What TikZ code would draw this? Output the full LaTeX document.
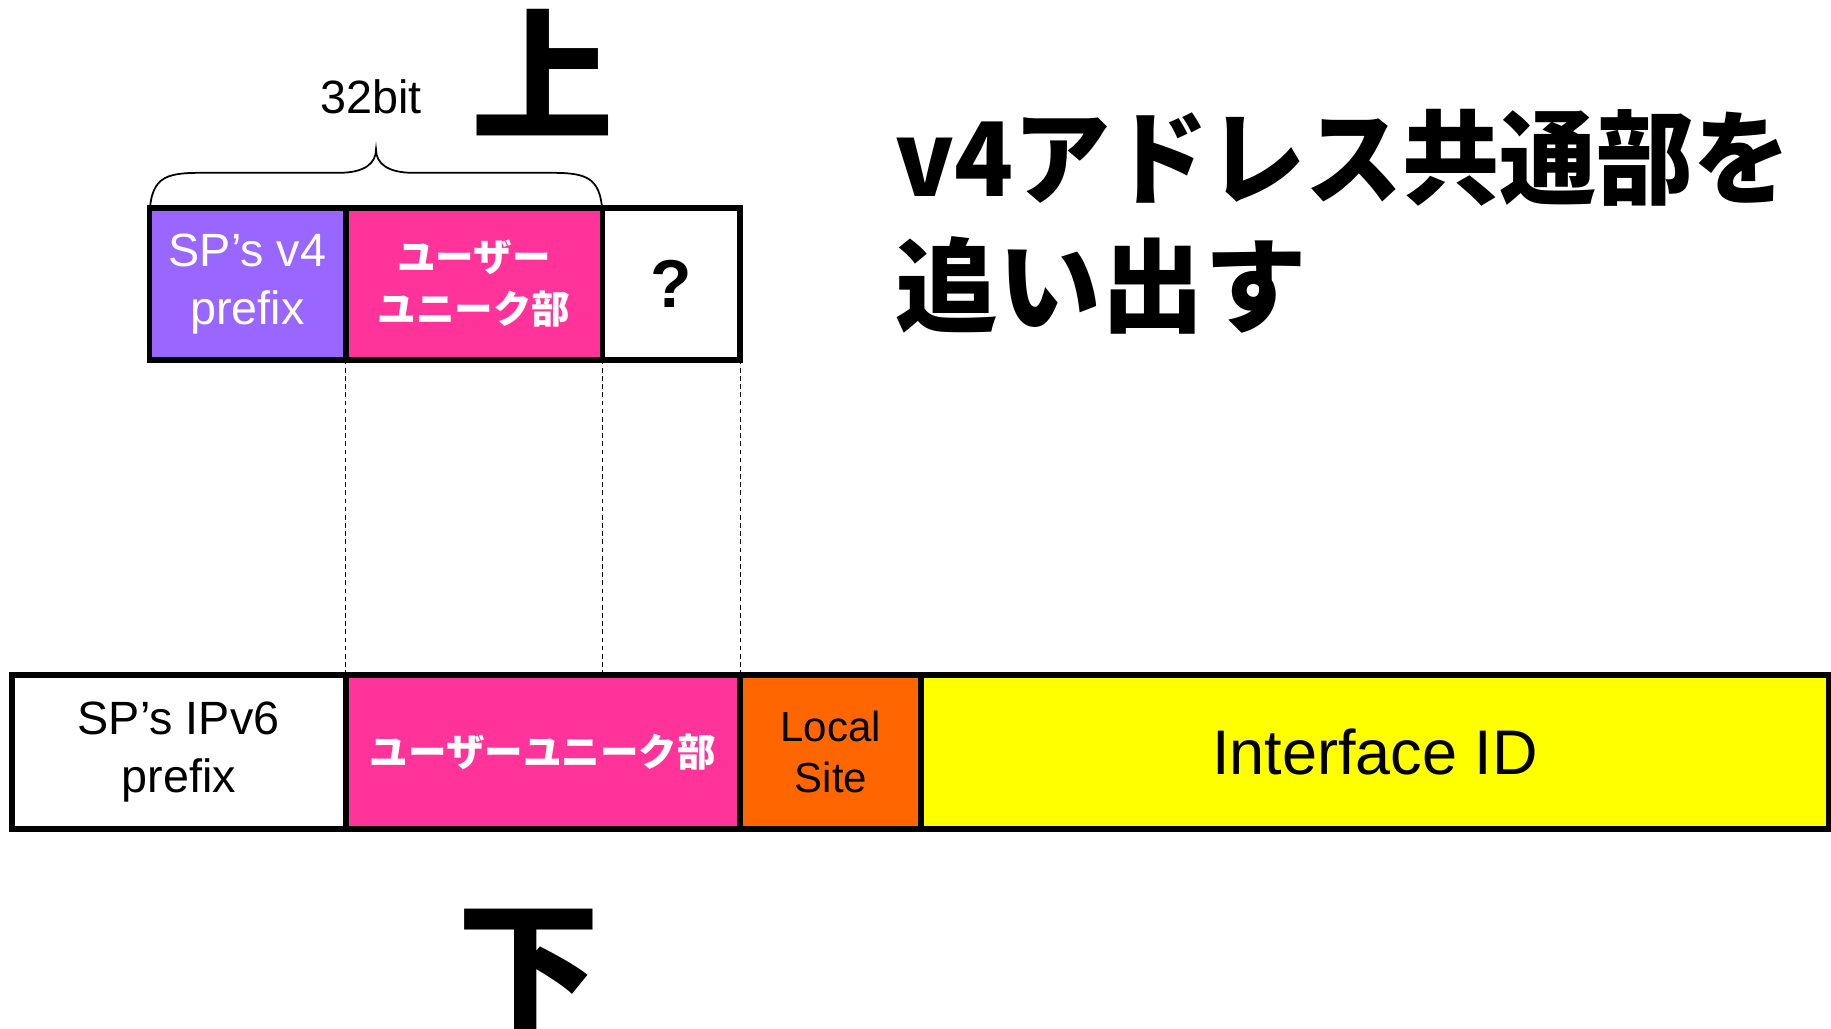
\documentclass[tikz,border=0pt]{standalone}
\usepackage{fontspec}
\setmainfont{Liberation Sans}
\newfontfamily\jp{Noto Sans CJK JP}
\definecolor{vpurple}{HTML}{9966FF}
\definecolor{vpink}{HTML}{FF3399}
\definecolor{vorange}{HTML}{FF6600}
\definecolor{vyellow}{HTML}{FFFF00}
\begin{document}
\begin{tikzpicture}[x=1pt,y=-1pt,
  box/.style={draw=black, line width=5pt, inner sep=0pt, outer sep=0pt, align=center},
  lat/.style={font=\fontsize{40}{50}\selectfont},
  jpw/.style={font=\jp\bfseries\fontsize{33}{45}\selectfont, text=white},
  guide/.style={line width=1pt, dash pattern=on 4pt off 3pt},
  bracestyle/.style={line width=1.5pt},
  big/.style={font=\jp\bfseries\fontsize{122}{122}\selectfont, inner sep=0pt}]
\useasboundingbox (0,0) rectangle (1568,881);
\fill[white] (0,0) rectangle (1568,881);
% top boxes
\node[box, fill=vpurple, minimum width=168pt, minimum height=130pt, lat, text=white] (sp4) at (212,243) {SP’s v4\\prefix};
\node[box, fill=vpink, minimum width=220pt, minimum height=130pt, jpw] (uu4) at (406,243) {ユーザー\\ユニーク部};
\node[box, fill=white, minimum width=118pt, minimum height=130pt, font=\bfseries\fontsize{58}{58}\selectfont] (q) at (575,243) {?};
% bottom bar
\node[box, fill=white, minimum width=286pt, minimum height=132pt, lat] (sp6) at (153,644) {SP’s IPv6\\prefix};
\node[box, fill=vpink, minimum width=338pt, minimum height=132pt, jpw] (uu6) at (465,644) {ユーザーユニーク部};
\node[box, fill=vorange, minimum width=155pt, minimum height=132pt, font=\fontsize{36}{44}\selectfont] (ls) at (711.5,644) {Local\\Site};
\node[box, fill=vyellow, minimum width=777pt, minimum height=132pt, font=\fontsize{54}{60}\selectfont] (iid) at (1177.5,644) {Interface ID};
% guides
\draw[guide] (sp4.south east) -- (uu6.north west);
\draw[guide] (uu4.south east) -- (uu6.north west -| uu4.south east);
\draw[guide] (q.south east) -- (ls.north west);
% brace
\coordinate (bl) at (sp4.north west);
\coordinate (br) at (uu4.north east);
\draw[bracestyle] ([yshift=-11pt]bl) .. controls (128,152) and (140,148) .. (172,148) -- (290,148)
  .. controls (312,148) and (322,140) .. (322,128)
  .. controls (322,140) and (332,148) .. (354,148) -- (472,148)
  .. controls (504,148) and (516,152) .. ([yshift=-11pt]br);
\node[font=\fontsize{40}{40}\selectfont] (bits) at (318,83) {32bit};
% big characters
\node[big] (up) at (465,62) {上};
\node[big] (down) at (453,832) {下};
% title
\node[font=\jp\bfseries\fontsize{88}{110}\selectfont, align=left, anchor=west, inner sep=0pt] (title) at (767,190) {\scalebox{0.945}[1]{v4アドレス共通部を}\\追い出す};
\end{tikzpicture}
\end{document}
